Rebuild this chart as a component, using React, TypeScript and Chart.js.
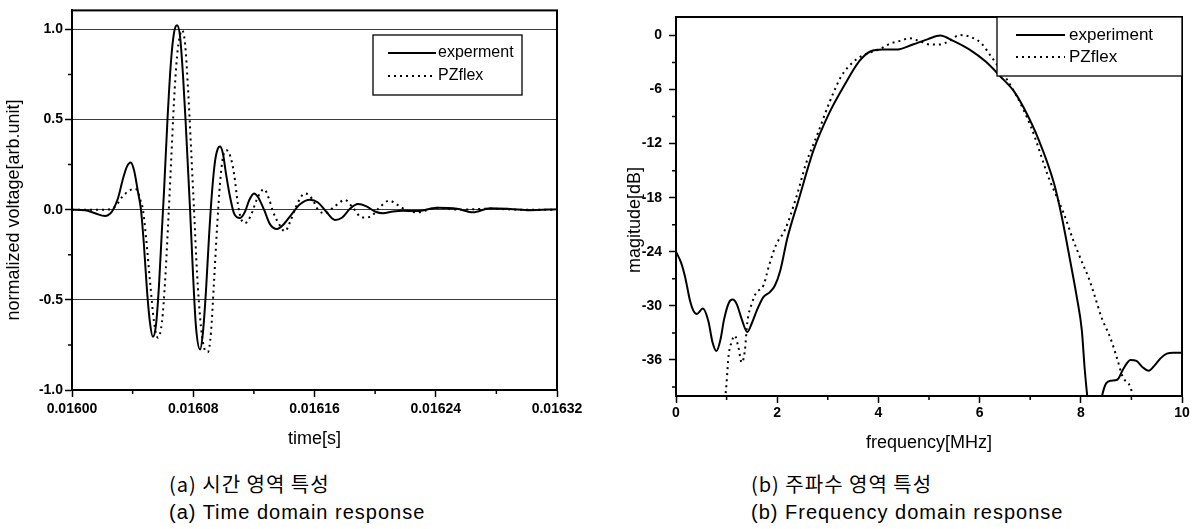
import React, { useEffect, useRef } from "react";
import { Chart, registerables } from "chart.js";
Chart.register(...registerables);

// ---------- (a) time domain ----------
const timeExp = [
  0.016, 0.0160086, 0.0160152, 0.0160218, 0.0160251, 0.0160271, 0.0160304, 0.0160336, 0.0160363, 0.0160387,
  0.0160409, 0.0160435, 0.0160455, 0.0160475, 0.0160495, 0.0160515, 0.0160534, 0.0160554, 0.0160574, 0.0160594,
  0.0160607, 0.016063, 0.0160653, 0.0160673, 0.0160693, 0.0160713, 0.0160732, 0.0160749, 0.0160779, 0.0160798,
  0.0160818, 0.0160845, 0.0160864, 0.0160884, 0.0160904, 0.0160924, 0.0160944, 0.0160963, 0.0160977, 0.0160996,
  0.0161016, 0.0161043, 0.0161069, 0.0161109, 0.0161142, 0.0161168, 0.0161201, 0.0161227, 0.0161267, 0.0161306,
  0.0161353, 0.0161392, 0.0161445, 0.0161504, 0.016157, 0.0161623, 0.0161676, 0.0161735, 0.0161781, 0.0161834,
  0.0161887, 0.016194, 0.0161999, 0.0162052, 0.0162118, 0.0162184, 0.0162276, 0.0162408, 0.016254, 0.0162646,
  0.0162758, 0.016289, 0.0163022, 0.01632,
];
const voltExp = [
  0, -0.003, -0.02, -0.035, -0.022, 0, 0.065, 0.17, 0.24, 0.262,
  0.22, 0.1, 0, -0.2, -0.45, -0.63, -0.705, -0.64, -0.42, -0.1,
  0.1, 0.5, 0.82, 0.98, 1.022, 0.96, 0.75, 0.5, 0, -0.35,
  -0.65, -0.775, -0.68, -0.45, -0.15, 0.1, 0.27, 0.34, 0.35, 0.31,
  0.2, 0.07, -0.02, -0.046, -0.01, 0.05, 0.09, 0.07, 0, -0.08,
  -0.107, -0.085, -0.03, 0.03, 0.055, 0.04, -0.01, -0.057, -0.045, 0.005,
  0.031, 0.02, -0.01, -0.02, -0.01, -0.006, -0.008, 0.01, 0.005, -0.015,
  0.008, 0.004, -0.003, 0.003,
];
const timePz = [
  0.016, 0.0160185, 0.0160264, 0.0160297, 0.016033, 0.0160369, 0.0160409, 0.0160429, 0.0160449, 0.0160468,
  0.0160488, 0.0160515, 0.0160541, 0.0160567, 0.0160594, 0.0160614, 0.0160633, 0.0160653, 0.0160673, 0.0160693,
  0.0160713, 0.0160726, 0.0160746, 0.0160765, 0.0160785, 0.0160805, 0.0160825, 0.0160851, 0.0160878, 0.0160897,
  0.0160917, 0.0160937, 0.0160957, 0.0160977, 0.0160996, 0.0161019, 0.0161043, 0.0161069, 0.0161095, 0.0161115,
  0.0161142, 0.0161181, 0.0161221, 0.0161267, 0.01613, 0.0161326, 0.0161366, 0.0161405, 0.0161438, 0.0161485,
  0.0161537, 0.0161584, 0.0161623, 0.0161669, 0.0161735, 0.0161801, 0.0161854, 0.0161913, 0.0161966, 0.0162032,
  0.0162092, 0.0162151, 0.016221, 0.0162276, 0.0162408, 0.016256, 0.0162758, 0.0162956, 0.01632,
];
const voltPz = [
  0, 0, 0.005, 0.03, 0.07, 0.1, 0.115, 0.11, 0.06, 0,
  -0.15, -0.4, -0.62, -0.71, -0.62, -0.4, -0.1, 0.25, 0.6, 0.85,
  0.97, 0.995, 0.92, 0.68, 0.35, 0, -0.35, -0.65, -0.78, -0.79,
  -0.68, -0.4, -0.1, 0.15, 0.29, 0.33, 0.3, 0.2, 0.03, -0.05,
  -0.075, -0.03, 0.06, 0.114, 0.06, -0.01, -0.08, -0.12, -0.07, 0.03,
  0.09, 0.06, 0, -0.02, 0.02, 0.054, 0.01, -0.043, -0.04, 0.015,
  0.05, 0.025, -0.005, -0.015, 0.01, 0, 0.005, 0, 0,
];

// ---------- (b) frequency domain ----------
const freqExp = [
  0, 0.1, 0.18, 0.28, 0.34, 0.41, 0.53, 0.64, 0.72, 0.8,
  0.88, 0.95, 1.05, 1.12, 1.2, 1.3, 1.41, 1.5, 1.59, 1.73,
  1.85, 1.95, 2.06, 2.2, 2.42, 2.72, 3.02, 3.33, 3.63, 3.85,
  4.08, 4.38, 4.68, 4.98, 5.22, 5.48, 5.81, 6.12, 6.42, 6.68,
  6.87, 7.17, 7.47, 7.62, 7.79, 7.92, 8.02, 8.08, 8.15, 8.3,
  8.4, 8.5, 8.6, 8.72, 8.84, 8.98, 9.1, 9.22, 9.34, 9.46,
  9.58, 9.7, 9.83, 10,
];
const magExp = [
  -24, -25.2, -26.8, -29.5, -30.5, -30.9, -30.3, -31.7, -34, -35,
  -33.7, -31.5, -29.6, -29.3, -29.8, -31.5, -32.9, -31.9, -30.6, -29,
  -28.5, -27.8, -26.1, -22.5, -18.3, -12.7, -8.7, -5.5, -2.8, -1.75,
  -1.55, -1.55, -1, -0.4, 0, -0.6, -1.6, -2.9, -4.6, -6.2,
  -8, -11.6, -16.4, -20, -25, -29, -32.7, -37.2, -41, -44,
  -40.5, -38.6, -38.3, -38.2, -37, -36, -36.1, -36.8, -37.2, -36.6,
  -35.8, -35.3, -35.2, -35.2,
];
const freqPz = [
  0.96, 1, 1.04, 1.1, 1.16, 1.23, 1.3, 1.36, 1.41, 1.5,
  1.58, 1.73, 1.84, 1.98, 2.15, 2.38, 2.57, 2.8, 3.02, 3.27,
  3.51, 3.7, 4.03, 4.23, 4.43, 4.62, 4.8, 5.02, 5.22, 5.4,
  5.61, 5.84, 6.04, 6.21, 6.34, 6.72, 7.02, 7.36, 7.66, 7.85,
  8.05, 8.15, 8.28, 8.41, 8.58, 8.71, 8.83, 8.98, 9.05,
];
const magPz = [
  -41, -38.5, -35.5, -34, -33.3, -34.5, -36.3, -35, -31.8, -29.7,
  -28.6, -27.7, -25.5, -23.2, -21.6, -17.9, -14.2, -10.9, -7.6, -4.5,
  -2.9, -2.2, -1.5, -0.9, -0.6, -0.3, -0.6, -1, -1, -0.6,
  0.05, -0.2, -0.9, -2.2, -3.2, -6.6, -10.2, -15.7, -19.7, -22.7,
  -25.5, -26.8, -29, -31.3, -33.5, -35.7, -37.9, -39, -40.5,
];

const seriesNamesA = ["experment", "PZflex"];
const seriesNamesB = ["experiment", "PZflex"];

const FONT = "'Liberation Sans', Arial, Helvetica, sans-serif";
Chart.defaults.font.family = FONT;
Chart.defaults.color = "#000";

const toPoints = (xs: number[], ys: number[]) => xs.map((x, i) => ({ x, y: ys[i] }));

const framePlugin = {
  id: "frame",
  afterDatasetsDraw(chart: any) {
    const { ctx, chartArea: a } = chart;
    ctx.save();
    ctx.strokeStyle = "#000";
    ctx.lineWidth = 2;
    ctx.strokeRect(a.left, a.top, a.right - a.left, a.bottom - a.top);
    ctx.restore();
  },
};

// short minor tick marks (major ones are drawn by the scales themselves)
function makeMinorTicks(isMinor: { x: (i: number, v: number) => boolean; y: (i: number, v: number) => boolean }) {
  return {
    id: "minorTicks",
    afterDraw(chart: any) {
      const { ctx } = chart;
      const sx = chart.scales.x;
      const sy = chart.scales.y;
      ctx.save();
      ctx.strokeStyle = "#000";
      ctx.lineWidth = 1.5;
      ctx.beginPath();
      sx.ticks.forEach((t: any, i: number) => {
        if (!isMinor.x(i, t.value)) return;
        const px = sx.getPixelForValue(t.value);
        ctx.moveTo(px, sx.top);
        ctx.lineTo(px, sx.top + 4);
      });
      sy.ticks.forEach((t: any, i: number) => {
        if (!isMinor.y(i, t.value)) return;
        const py = sy.getPixelForValue(t.value);
        ctx.moveTo(sy.right - 4, py);
        ctx.lineTo(sy.right, py);
      });
      ctx.stroke();
      ctx.restore();
    },
  };
}

function makeLegend(cfg: any) {
  return {
    id: "boxLegend",
    afterDraw(chart: any) {
      const { ctx } = chart;
      const [x0, y0, x1, y1] = cfg.box;
      ctx.save();
      ctx.fillStyle = "#fff";
      ctx.fillRect(x0, y0, x1 - x0, y1 - y0);
      ctx.strokeStyle = "#000";
      ctx.lineWidth = 1.3;
      ctx.strokeRect(x0, y0, x1 - x0, y1 - y0);
      chart.data.datasets.forEach((ds: any, i: number) => {
        const y = cfg.rows[i];
        ctx.beginPath();
        ctx.setLineDash(ds.borderDash || []);
        ctx.lineWidth = ds.borderWidth;
        ctx.strokeStyle = ds.borderColor;
        ctx.moveTo(cfg.sample[0], y);
        ctx.lineTo(cfg.sample[1], y);
        ctx.stroke();
        ctx.setLineDash([]);
        ctx.fillStyle = "#000";
        ctx.font = cfg.font;
        ctx.textBaseline = "middle";
        ctx.textAlign = "left";
        ctx.fillText(ds.label, cfg.textX, y);
      });
      ctx.restore();
    },
  };
}

function makeYTitle(cfg: any) {
  return {
    id: "yTitle",
    afterDraw(chart: any) {
      const { ctx } = chart;
      ctx.save();
      ctx.translate(cfg.x, cfg.y);
      ctx.rotate(-Math.PI / 2);
      ctx.font = cfg.font;
      ctx.fillStyle = "#000";
      ctx.textAlign = "center";
      ctx.textBaseline = "middle";
      ctx.fillText(cfg.text, 0, 0);
      ctx.restore();
    },
  };
}

const tickFont = { family: FONT, size: 14, weight: "bold" as const };
const titleFont = { family: FONT, size: 18, weight: "normal" as const };

function lineDatasets(names: string[], a: any[], b: any[]) {
  return [
    {
      label: names[0],
      data: a,
      borderColor: "#000",
      borderWidth: 2,
      pointRadius: 0,
      cubicInterpolationMode: "monotone",
      fill: false,
    },
    {
      label: names[1],
      data: b,
      borderColor: "#000",
      borderWidth: 2,
      borderDash: [2, 4],
      pointRadius: 0,
      cubicInterpolationMode: "monotone",
      fill: false,
    },
  ];
}

const isHalf = (v: number) => Math.abs(v * 2 - Math.round(v * 2)) < 1e-6;

function TimeChart() {
  const ref = useRef<HTMLCanvasElement>(null);
  useEffect(() => {
    const chart = new Chart(ref.current as HTMLCanvasElement, {
      type: "line",
      data: {
        datasets: lineDatasets(seriesNamesA, toPoints(timeExp, voltExp), toPoints(timePz, voltPz)) as any,
      },
      options: {
        animation: false,
        responsive: false,
        devicePixelRatio: 1,
        layout: { padding: { left: 0, top: 9.5, right: 43, bottom: 0 } },
        plugins: { legend: { display: false }, tooltip: { enabled: false } },
        scales: {
          x: {
            type: "linear",
            min: 0.016,
            max: 0.01632,
            afterFit: (s: any) => { s.height = 60; },
            border: { display: true, color: "#000", width: 2 },
            grid: {
              drawOnChartArea: false,
              drawTicks: true,
              tickLength: 7,
              tickWidth: 1.5,
              tickColor: (c: any) => (c.index % 2 === 0 ? "#000" : "rgba(0,0,0,0)"),
            },
            ticks: {
              stepSize: 0.00004,
              autoSkip: false,
              maxRotation: 0,
              maxTicksLimit: 30,
              padding: 4,
              font: tickFont,
              color: "#000",
              callback: (v: any, i: number) => (i % 2 === 0 ? Number(v).toFixed(5) : ""),
            },
            title: { display: true, text: "time[s]", font: titleFont, color: "#000", padding: 0 },
          },
          y: {
            type: "linear",
            min: -1,
            max: 1.105,
            afterFit: (s: any) => { s.width = 72; },
            border: { display: true, color: "#000", width: 2 },
            grid: {
              drawOnChartArea: true,
              tickLength: 7,
              tickWidth: 1.5,
              lineWidth: 1,
              tickColor: (c: any) => (c.tick && isHalf(c.tick.value) ? "#000" : "rgba(0,0,0,0)"),
              color: (c: any) => (c.tick && isHalf(c.tick.value) ? "#3a3a3a" : "rgba(0,0,0,0)"),
            },
            ticks: {
              stepSize: 0.25,
              includeBounds: false,
              autoSkip: false,
              maxTicksLimit: 30,
              padding: 2,
              font: tickFont,
              color: "#000",
              callback: (v: any) => (isHalf(Number(v)) ? Number(v).toFixed(1) : ""),
            },
          },
        },
      },
      plugins: [
        framePlugin,
        makeMinorTicks({ x: (i) => i % 2 === 1, y: (_i, v) => !isHalf(v) }),
        makeLegend({
          box: [373, 35, 522, 95],
          rows: [53, 76],
          sample: [388, 436],
          textX: 438,
          font: `16px ${FONT}`,
        }),
        makeYTitle({ text: "normalized voltage[arb.unit]", x: 14, y: 210, font: `18px ${FONT}` }),
      ],
    } as any);
    return () => chart.destroy();
  }, []);
  return <canvas ref={ref} width={600} height={450} style={{ position: "absolute", left: 0, top: 0 }} />;
}

function FreqChart() {
  const ref = useRef<HTMLCanvasElement>(null);
  useEffect(() => {
    const chart = new Chart(ref.current as HTMLCanvasElement, {
      type: "line",
      data: {
        datasets: lineDatasets(seriesNamesB, toPoints(freqExp, magExp), toPoints(freqPz, magPz)) as any,
      },
      options: {
        animation: false,
        responsive: false,
        devicePixelRatio: 1,
        layout: { padding: { left: 0, top: 17, right: 13, bottom: 6 } },
        plugins: { legend: { display: false }, tooltip: { enabled: false } },
        scales: {
          x: {
            type: "linear",
            min: 0,
            max: 10,
            afterFit: (s: any) => { s.height = 58; },
            border: { display: true, color: "#000", width: 2 },
            grid: {
              drawOnChartArea: false,
              tickLength: 7,
              tickWidth: 1.5,
              tickColor: (c: any) => (c.tick && Number(c.tick.value) % 2 === 0 ? "#000" : "rgba(0,0,0,0)"),
            },
            ticks: {
              stepSize: 1,
              autoSkip: false,
              maxRotation: 0,
              maxTicksLimit: 30,
              padding: 2,
              font: tickFont,
              color: "#000",
              callback: (v: any) => (Number(v) % 2 === 0 ? String(v) : ""),
            },
            title: { display: true, text: "frequency[MHz]", font: titleFont, color: "#000", padding: 0 },
          },
          y: {
            type: "linear",
            min: -40,
            max: 2.05,
            afterFit: (s: any) => { s.width = 76; },
            border: { display: true, color: "#000", width: 2 },
            grid: {
              drawOnChartArea: false,
              tickLength: 7,
              tickWidth: 1.5,
              tickColor: (c: any) => (c.tick && Number(c.tick.value) % 6 === 0 ? "#000" : "rgba(0,0,0,0)"),
            },
            ticks: {
              stepSize: 3,
              includeBounds: false,
              autoSkip: false,
              maxTicksLimit: 30,
              padding: 7,
              font: tickFont,
              color: "#000",
              callback: (v: any) => (Number(v) % 6 === 0 ? String(Number(v)) : ""),
            },
          },
        },
      },
      plugins: [
        framePlugin,
        makeMinorTicks({ x: (_i, v) => v % 2 !== 0, y: (_i, v) => v % 6 !== 0 }),
        makeLegend({
          box: [397, 17, 582, 76],
          rows: [35, 57],
          sample: [416, 465],
          textX: 469,
          font: `17px ${FONT}`,
        }),
        makeYTitle({ text: "magitude[dB]", x: 35, y: 220, font: `18px ${FONT}` }),
      ],
    } as any);
    return () => chart.destroy();
  }, []);
  return <canvas ref={ref} width={595} height={460} style={{ position: "absolute", left: 600, top: 0 }} />;
}

const captionStyle: React.CSSProperties = {
  position: "absolute",
  top: 470,
  fontSize: 20,
  lineHeight: "28px",
  letterSpacing: "1px",
  color: "#000",
  whiteSpace: "nowrap",
};

export default function App() {
  return (
    <div style={{ position: "absolute", left: 0, top: 0, width: 1195, height: 529, background: "#fff", overflow: "hidden" }}>
      <TimeChart />
      <FreqChart />
      <div style={{ ...captionStyle, left: 169 }}>
        <div style={{ fontFamily: "'Noto Sans CJK KR', sans-serif" }}>(a) 시간 영역 특성</div>
        <div style={{ fontFamily: FONT }}>(a) Time domain response</div>
      </div>
      <div style={{ ...captionStyle, left: 751 }}>
        <div style={{ fontFamily: "'Noto Sans CJK KR', sans-serif" }}>(b) 주파수 영역 특성</div>
        <div style={{ fontFamily: FONT }}>(b) Frequency domain response</div>
      </div>
    </div>
  );
}
